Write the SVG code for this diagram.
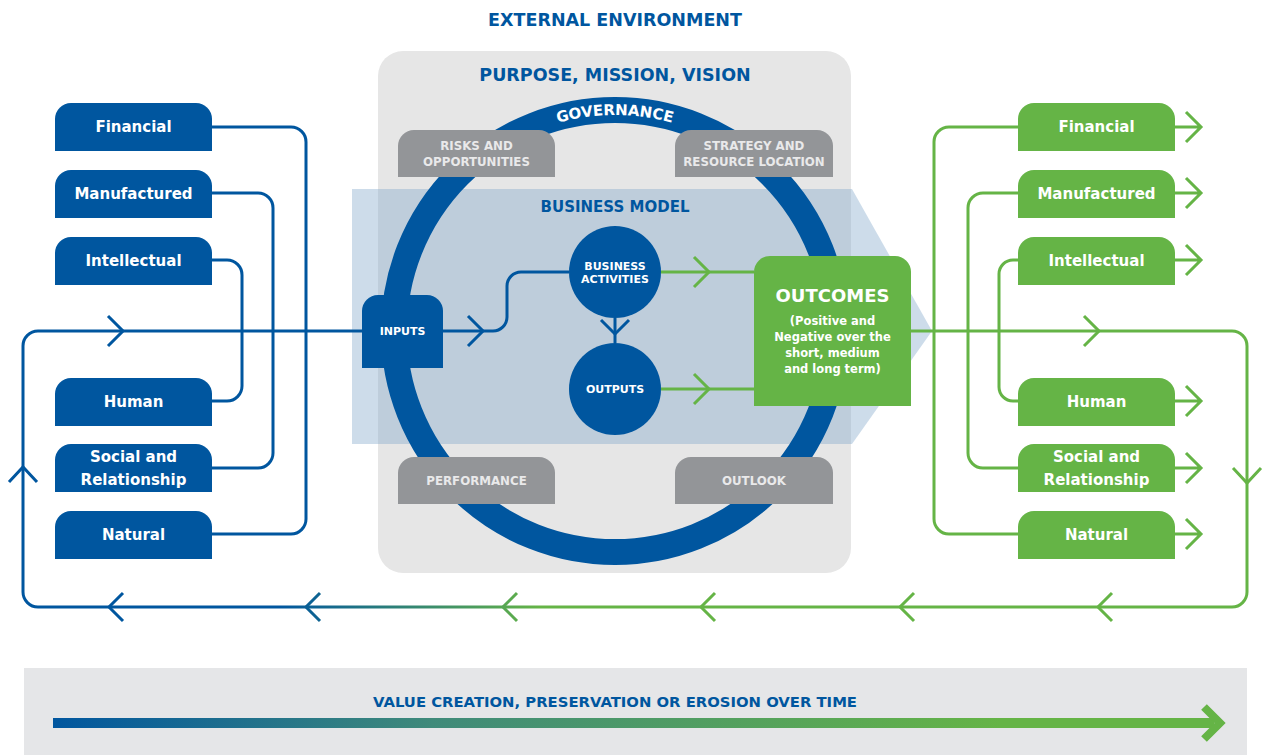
<svg xmlns="http://www.w3.org/2000/svg" width="1263" height="755" viewBox="0 0 1263 755">
<style>
text{font-family:"DejaVu Sans","Open Sans",sans-serif;font-weight:700;text-anchor:middle}
.blue{fill:#00569f}
.green{fill:#65b446}
.grey{fill:#939598}
.wt{fill:#ffffff}
.gt{fill:#e9e9ea;font-size:11.8px}
.cap{font-size:15px;fill:#ffffff}
.bl{fill:none;stroke:#00569f;stroke-width:3}
.gl{fill:none;stroke:#65b446;stroke-width:3}
.h1{font-size:17.5px;fill:#00569f}
</style>
<defs>
<linearGradient id="loopGrad" gradientUnits="userSpaceOnUse" x1="280" y1="0" x2="540" y2="0">
<stop offset="0" stop-color="#00569f"/>
<stop offset="1" stop-color="#65b446"/>
</linearGradient>
<linearGradient id="timeGrad" gradientUnits="userSpaceOnUse" x1="53" y1="0" x2="1000" y2="0">
<stop offset="0" stop-color="#00569f"/>
<stop offset="0.4" stop-color="#3f8a7a"/>
<stop offset="1" stop-color="#65b446"/>
</linearGradient>
<path id="govArc" d="M399,331 A216,216 0 0 1 831,331"/>
</defs>

<rect width="1263" height="755" fill="#ffffff"/>
<text class="h1" x="615" y="26">EXTERNAL ENVIRONMENT</text>

<g id="core">
<rect x="378" y="51" width="473" height="522" rx="25" fill="#e6e6e6"/>
<text class="h1" x="615" y="81">PURPOSE, MISSION, VISION</text>
<polygon points="352,189 852,189 932,331 852,444 352,444" fill="#82a7cb" fill-opacity="0.4"/>
<text x="615" y="212" style="font-size:15px" class="blue">BUSINESS MODEL</text>
<circle cx="615" cy="331" r="221" fill="none" stroke="#00569f" stroke-width="26"/>
<text style="font-size:15px" class="wt"><textPath href="#govArc" startOffset="50%">GOVERNANCE</textPath></text>
</g>

<g id="risks">
<path class="grey" d="M398,177 V146 A16,16 0 0 1 414,130 H539 A16,16 0 0 1 555,146 V177 Z"/>
<text class="gt" x="476.5" y="150">RISKS AND</text>
<text class="gt" x="476.5" y="166">OPPORTUNITIES</text>
</g>
<g id="strategy">
<path class="grey" d="M675,177 V146 A16,16 0 0 1 691,130 H817 A16,16 0 0 1 833,146 V177 Z"/>
<text class="gt" x="754" y="150">STRATEGY AND</text>
<text class="gt" x="754" y="166">RESOURCE LOCATION</text>
</g>
<g id="performance">
<path class="grey" d="M398,504 V473 A16,16 0 0 1 414,457 H539 A16,16 0 0 1 555,473 V504 Z"/>
<text class="gt" x="476.5" y="485">PERFORMANCE</text>
</g>
<g id="outlook">
<path class="grey" d="M675,504 V473 A16,16 0 0 1 691,457 H817 A16,16 0 0 1 833,473 V504 Z"/>
<text class="gt" x="754" y="485">OUTLOOK</text>
</g>

<g id="connectors">
<path class="bl" d="M212,127 H291 A15,15 0 0 1 306,142 V519 A15,15 0 0 1 291,534 H212"/>
<path class="bl" d="M212,193 H258 A15,15 0 0 1 273,208 V453 A15,15 0 0 1 258,468 H212"/>
<path class="bl" d="M212,260 H227 A15,15 0 0 1 242,275 V386 A15,15 0 0 1 227,401 H212"/>
<path class="bl" d="M38,607 A15,15 0 0 1 23,592 V346 A15,15 0 0 1 38,331 H362"/>
<path class="bl" d="M108,316 L123,331 L108,346"/>
<path class="bl" d="M9,482 L23,467 L37,482"/>
<path class="bl" d="M443,331 H493 A14,14 0 0 0 507,317 V286 A14,14 0 0 1 521,272 H569"/>
<path class="bl" d="M468,316 L483,331 L468,346"/>
<path class="bl" d="M615,318 V343"/>
<path class="bl" d="M601,320 L615,334 L629,320"/>
<path class="gl" d="M661,272 H754"/>
<path class="gl" d="M694,257 L709,272 L694,287"/>
<path class="gl" d="M661,389 H754"/>
<path class="gl" d="M694,374 L709,389 L694,404"/>
<path class="gl" d="M911,331 H1232 A15,15 0 0 1 1247,346 V592 A15,15 0 0 1 1232,607"/>
<path class="gl" d="M1084,316 L1099,331 L1084,346"/>
<path class="gl" d="M1233,468 L1247,483 L1261,468"/>
<path d="M1232,607 H38" fill="none" stroke="url(#loopGrad)" stroke-width="3"/>
<path d="M123,593 L109,607 L123,621 M320,593 L306,607 L320,621 M517,593 L503,607 L517,621 M715,593 L701,607 L715,621 M914,593 L900,607 L914,621 M1112,593 L1098,607 L1112,621" fill="none" stroke="url(#loopGrad)" stroke-width="3"/>
<path class="gl" d="M1018,127 H949 A15,15 0 0 0 934,142 V519 A15,15 0 0 0 949,534 H1018"/>
<path class="gl" d="M1018,193 H983 A15,15 0 0 0 968,208 V453 A15,15 0 0 0 983,468 H1018"/>
<path class="gl" d="M1018,260 H1013 A14,14 0 0 0 999,274 V387 A14,14 0 0 0 1013,401 H1018"/>
<path class="gl" d="M1175,127 H1200 M1186,112 L1201,127 L1186,142"/>
<path class="gl" d="M1175,193 H1200 M1186,178 L1201,193 L1186,208"/>
<path class="gl" d="M1175,260 H1200 M1186,245 L1201,260 L1186,275"/>
<path class="gl" d="M1175,401 H1200 M1186,386 L1201,401 L1186,416"/>
<path class="gl" d="M1175,468 H1200 M1186,453 L1201,468 L1186,483"/>
<path class="gl" d="M1175,534 H1200 M1186,519 L1201,534 L1186,549"/>
</g>

<g id="inputs">
<path class="blue" d="M362,368 V311 A16,16 0 0 1 378,295 H427 A16,16 0 0 1 443,311 V368 Z"/>
<text class="wt" x="402.5" y="335" style="font-size:11px">INPUTS</text>
</g>
<g id="business-activities">
<circle cx="615" cy="272" r="46" class="blue"/>
<text class="wt" x="615" y="270" style="font-size:11px">BUSINESS</text>
<text class="wt" x="615" y="283" style="font-size:11px">ACTIVITIES</text>
</g>
<g id="outputs">
<circle cx="615" cy="389" r="46" class="blue"/>
<text class="wt" x="615" y="393" style="font-size:11px">OUTPUTS</text>
</g>
<g id="outcomes">
<path class="green" d="M754,406 V272 A16,16 0 0 1 770,256 H895 A16,16 0 0 1 911,272 V406 Z"/>
<text class="wt" x="832.5" y="302" style="font-size:18px">OUTCOMES</text>
<text class="wt" x="832.5" y="325" style="font-size:11.5px">(Positive and</text>
<text class="wt" x="832.5" y="341" style="font-size:11.5px">Negative over the</text>
<text class="wt" x="832.5" y="357" style="font-size:11.5px">short, medium</text>
<text class="wt" x="832.5" y="373" style="font-size:11.5px">and long term)</text>
</g>

<g id="in-financial"><path class="blue" d="M55,151 V119 A16,16 0 0 1 71,103 H196 A16,16 0 0 1 212,119 V151 Z"/><text class="cap" x="133.5" y="132">Financial</text></g>
<g id="in-manufactured"><path class="blue" d="M55,218 V186 A16,16 0 0 1 71,170 H196 A16,16 0 0 1 212,186 V218 Z"/><text class="cap" x="133.5" y="199">Manufactured</text></g>
<g id="in-intellectual"><path class="blue" d="M55,285 V253 A16,16 0 0 1 71,237 H196 A16,16 0 0 1 212,253 V285 Z"/><text class="cap" x="133.5" y="266">Intellectual</text></g>
<g id="in-human"><path class="blue" d="M55,426 V394 A16,16 0 0 1 71,378 H196 A16,16 0 0 1 212,394 V426 Z"/><text class="cap" x="133.5" y="407">Human</text></g>
<g id="in-social"><path class="blue" d="M55,492 V460 A16,16 0 0 1 71,444 H196 A16,16 0 0 1 212,460 V492 Z"/><text class="cap" x="133.5" y="462">Social and</text><text class="cap" x="133.5" y="485">Relationship</text></g>
<g id="in-natural"><path class="blue" d="M55,559 V527 A16,16 0 0 1 71,511 H196 A16,16 0 0 1 212,527 V559 Z"/><text class="cap" x="133.5" y="540">Natural</text></g>

<g id="out-financial"><path class="green" d="M1018,151 V119 A16,16 0 0 1 1034,103 H1159 A16,16 0 0 1 1175,119 V151 Z"/><text class="cap" x="1096.5" y="132">Financial</text></g>
<g id="out-manufactured"><path class="green" d="M1018,218 V186 A16,16 0 0 1 1034,170 H1159 A16,16 0 0 1 1175,186 V218 Z"/><text class="cap" x="1096.5" y="199">Manufactured</text></g>
<g id="out-intellectual"><path class="green" d="M1018,285 V253 A16,16 0 0 1 1034,237 H1159 A16,16 0 0 1 1175,253 V285 Z"/><text class="cap" x="1096.5" y="266">Intellectual</text></g>
<g id="out-human"><path class="green" d="M1018,426 V394 A16,16 0 0 1 1034,378 H1159 A16,16 0 0 1 1175,394 V426 Z"/><text class="cap" x="1096.5" y="407">Human</text></g>
<g id="out-social"><path class="green" d="M1018,492 V460 A16,16 0 0 1 1034,444 H1159 A16,16 0 0 1 1175,460 V492 Z"/><text class="cap" x="1096.5" y="462">Social and</text><text class="cap" x="1096.5" y="485">Relationship</text></g>
<g id="out-natural"><path class="green" d="M1018,559 V527 A16,16 0 0 1 1034,511 H1159 A16,16 0 0 1 1175,527 V559 Z"/><text class="cap" x="1096.5" y="540">Natural</text></g>

<g id="timeline">
<rect x="24" y="668" width="1223" height="87" fill="#e5e6e8"/>
<text class="blue" x="615" y="707" style="font-size:14.5px" textLength="484" lengthAdjust="spacingAndGlyphs">VALUE CREATION, PRESERVATION OR EROSION OVER TIME</text>
<path d="M53,723 H1214" stroke="url(#timeGrad)" stroke-width="10" fill="none"/>
<path d="M1204,707 L1220,723 L1204,739" stroke="#65b446" stroke-width="8" fill="none"/>
</g>
</svg>
